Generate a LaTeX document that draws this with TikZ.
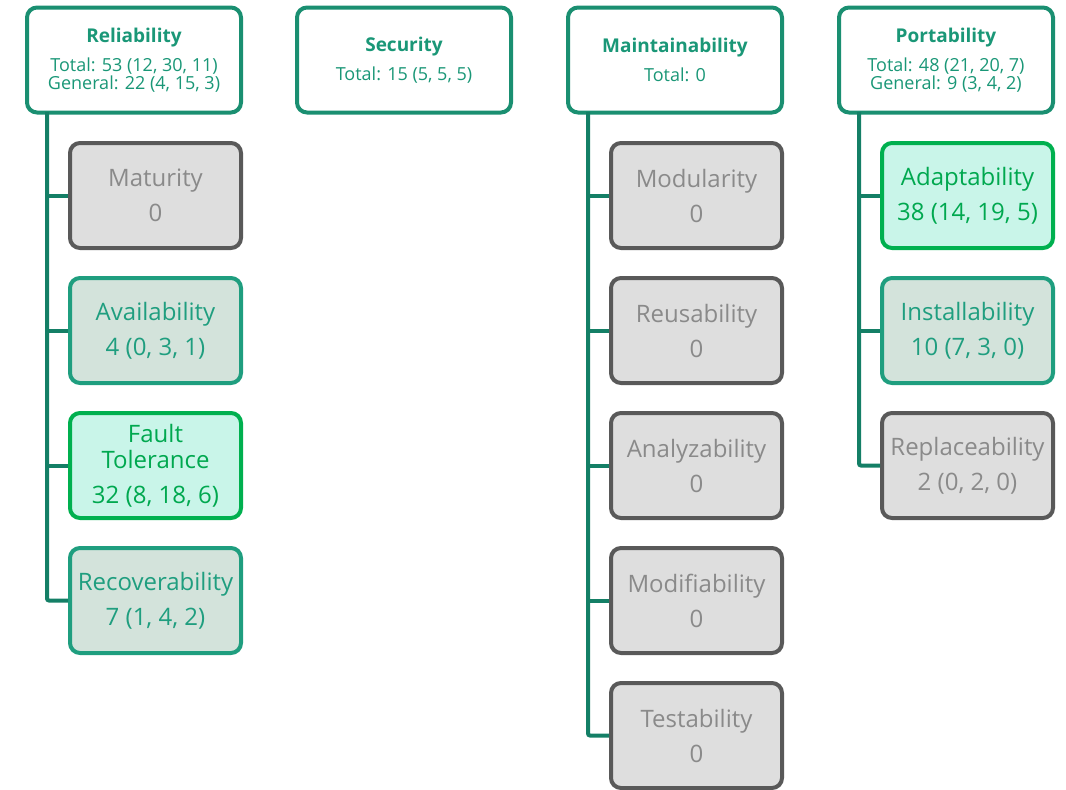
\documentclass[tikz,border=0pt]{standalone}
\usepackage{fontspec}
\setmainfont{Open Sans}
\definecolor{tealdark}{HTML}{147F66}
\definecolor{tealtext}{HTML}{1A9777}
\definecolor{tealbox}{HTML}{1A8F71}
\definecolor{graybox}{HTML}{595959}
\definecolor{grayfill}{HTML}{DEDEDE}
\definecolor{graytext}{HTML}{8A8A8A}
\definecolor{midbox}{HTML}{1F9E7F}
\definecolor{midfill}{HTML}{D3E3DB}
\definecolor{hibox}{HTML}{00B04F}
\definecolor{hifill}{HTML}{C9F5E9}
\definecolor{hitext}{HTML}{00A84F}
\newcommand{\boxtitle}[1]{{\fontsize{19}{18}\selectfont\bfseries #1}}
\begin{document}
\begin{tikzpicture}[x=1pt, y=1pt,
  topbox/.style={draw=tealbox, fill=white, line width=4pt, rounded corners=10pt,
    minimum width=214pt, minimum height=105pt, inner sep=0pt, align=center,
    text=tealtext, font=\fontsize{18}{18}\selectfont},
  subbox/.style={line width=4pt, rounded corners=10pt, minimum width=171pt,
    minimum height=105pt, inner sep=0pt, align=center,
    font=\fontsize{24}{26}\selectfont},
  zero/.style={subbox, draw=graybox, fill=grayfill, text=graytext},
  some/.style={subbox, draw=midbox, fill=midfill, text=midbox},
  most/.style={subbox, draw=hibox, fill=hifill, text=hitext},
  trunk/.style={draw=tealdark, line width=4pt, rounded corners=2pt}]
\useasboundingbox (0,0) rectangle (1066,-790);
% top row
\node[topbox] (rel) at (134,-60){\boxtitle{Reliability}\\[10pt]Total: 53 (12, 30, 11)\\General: 22 (4, 15, 3)};
\node[topbox] (sec) at (404,-60){\boxtitle{Security}\\[10pt]Total: 15 (5, 5, 5)};
\node[topbox] (mai) at (675,-60){\boxtitle{Maintainability}\\[10pt]Total: 0};
\node[topbox] (por) at (946,-60){\boxtitle{Portability}\\[10pt]Total: 48 (21, 20, 7)\\General: 9 (3, 4, 2)};
% reliability
\coordinate (relT) at (47,-112);
\node[zero] (mat) at (155.5,-195.5){Maturity\\[9pt]0};
\node[some] (ava) at (155.5,-330.5){Availability\\[9pt]4 (0, 3, 1)};
\node[most] (fau) at (155.5,-465.5){Fault\\Tolerance\\[9pt]32 (8, 18, 6)};
\node[some] (rec) at (155.5,-600.5){Recoverability\\[9pt]7 (1, 4, 2)};
\draw[trunk](relT) |- (rec.west);
\draw[trunk](relT |- mat.west) -- (mat.west);
\draw[trunk](relT |- ava.west) -- (ava.west);
\draw[trunk](relT |- fau.west) -- (fau.west);
% maintainability
\coordinate (maiT) at (588,-112);
\node[zero] (mod) at (696.5,-195.5){Modularity\\[9pt]0};
\node[zero] (reu) at (696.5,-330.5){Reusability\\[9pt]0};
\node[zero] (ana) at (696.5,-465.5){Analyzability\\[9pt]0};
\node[zero] (mdf) at (696.5,-600.5){Modifiability\\[9pt]0};
\node[zero] (tes) at (696.5,-735.5){Testability\\[9pt]0};
\draw[trunk](maiT) |- (tes.west);
\draw[trunk](maiT |- mod.west) -- (mod.west);
\draw[trunk](maiT |- reu.west) -- (reu.west);
\draw[trunk](maiT |- ana.west) -- (ana.west);
\draw[trunk](maiT |- mdf.west) -- (mdf.west);
% portability
\coordinate (porT) at (859,-112);
\node[most] (ada) at (967.5,-195.5){Adaptability\\[9pt]38 (14, 19, 5)};
\node[some] (ins) at (967.5,-330.5){Installability\\[9pt]10 (7, 3, 0)};
\node[zero] (rep) at (967.5,-465.5){Replaceability\\[9pt]2 (0, 2, 0)};
\draw[trunk](porT) |- (rep.west);
\draw[trunk](porT |- ada.west) -- (ada.west);
\draw[trunk](porT |- ins.west) -- (ins.west);
\end{tikzpicture}
\end{document}
